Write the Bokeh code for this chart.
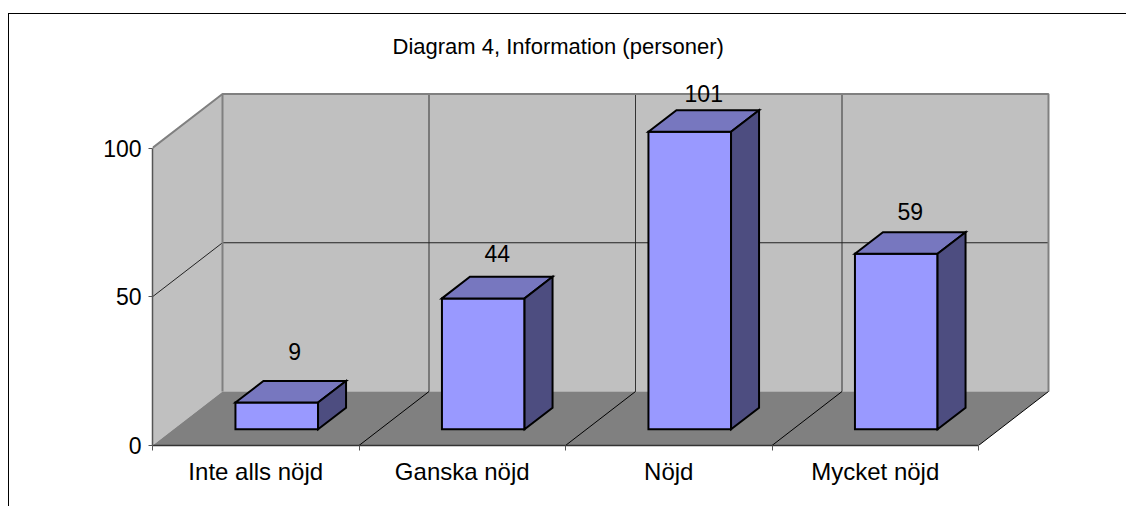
from bokeh.plotting import figure
from bokeh.models import Range1d, LinearAxis, FixedTicker, Title, InlineStyleSheet
from bokeh.core.properties import value
from bokeh.embed import file_html
from bokeh.resources import INLINE

categories = ["Inte alls nöjd", "Ganska nöjd", "Nöjd", "Mycket nöjd"]
counts = [9, 44, 101, 59]
y_ticks = [0, 50, 100]
chart_title = "Diagram 4, Information (personer)"
label_shift_px = [39, 35, 35, 35]

FONT = "Liberation Sans"
W, H = 1126, 506
PX_X, PX_Y = 206.5, 2.975          # pixels per category / per value unit
LEFT, BOTTOM, TOP = 152, 61, 70    # canvas margins around the frame
DX, DY = 70 / PX_X, 54 / PX_Y      # oblique depth vector in data units
YMAX = max(y_ticks)
N = len(categories)

def pr(x, y, d):
    return x + d * DX, y + d * DY

def poly(*pts):
    q = [pr(*t) for t in pts]
    return [a for a, _ in q], [b for _, b in q]

p = figure(width=W, height=H, output_backend="svg", toolbar_location=None,
           x_range=Range1d(0, (W - LEFT) / PX_X),
           y_range=Range1d(0, (H - BOTTOM - TOP) / PX_Y),
           x_axis_type=None, y_axis_type=None,
           min_border_left=LEFT, min_border_right=0, min_border_top=TOP, min_border_bottom=BOTTOM)
p.grid.visible = False
p.outline_line_color = None
p.background_fill_color = None
p.border_fill_color = "white"

# surrounding chart border, open at the page edge as in the reference
p.stylesheets = [InlineStyleSheet(css=(
    ":host::before{content:'';position:absolute;left:7.5px;top:13px;right:0;bottom:0;"
    "border-left:1.5px solid #000;border-top:1.5px solid #000;z-index:10;pointer-events:none}"))]

p.add_layout(Title(text=chart_title, text_font=FONT, text_font_size="22px",
                   text_font_style="normal", text_color="black",
                   align="left", offset=240, standoff=23), "above")

WALL, FLOOR, EDGE = "#c0c0c0", "#808080", "#808080"
# walls and floor
xs, ys = poly((0, 0, 0), (0, YMAX, 0), (0, YMAX, 1), (0, 0, 1))
p.patch(xs, ys, fill_color=WALL, line_color=None)
xs, ys = poly((0, 0, 1), (0, YMAX, 1), (N, YMAX, 1), (N, 0, 1))
p.patch(xs, ys, fill_color=WALL, line_color=None)
xs, ys = poly((0, 0, 0), (0, 0, 1), (N, 0, 1), (N, 0, 0))
p.patch(xs, ys, fill_color=FLOOR, line_color=None)

# grid on the walls and floor
for i in range(1, N):
    xs, ys = poly((i, 0, 1), (i, YMAX, 1))
    p.line(xs, ys, line_color="#333333", line_width=1)
    xs, ys = poly((i, 0, 0), (i, 0, 1))
    p.line(xs, ys, line_color="black", line_width=1)
xs, ys = poly((0, 50, 0), (0, 50, 1), (N, 50, 1))
p.line(xs, ys, line_color="#222222", line_width=1)

xs, ys = poly((0, YMAX, 0), (0, YMAX, 1), (N, YMAX, 1), (N, 0, 1))
p.line(xs, ys, line_color=EDGE, line_width=2)
xs, ys = poly((0, 0, 1), (0, YMAX, 1))
p.line(xs, ys, line_color=EDGE, line_width=2)
xs, ys = poly((N, 0, 0), (N, 0, 1))
p.line(xs, ys, line_color="black", line_width=1)

# bars (the 101 bar is cut off at the axis maximum, as in the reference)
for i, count in enumerate(counts):
    v = min(count, YMAX)
    x0, x1, d0, d1 = i + 0.3, i + 0.7, 0.3, 0.7
    fx, fy = poly((x0, 0, d0), (x0, v, d0), (x1, v, d0), (x1, 0, d0))
    tx, ty = poly((x0, v, d0), (x0, v, d1), (x1, v, d1), (x1, v, d0))
    sx, sy = poly((x1, 0, d0), (x1, v, d0), (x1, v, d1), (x1, 0, d1))
    for a, b, c in ((fx, fy, "#9999ff"), (tx, ty, "#7777bf"), (sx, sy, "#4d4d80")):
        p.patch(a, b, fill_color=c, line_color="black", line_width=2, line_join="miter")

# value labels
lx = [i + 0.5 + s / PX_X for i, s in enumerate(label_shift_px)]
ly = [(69 + 2.8 * v) / PX_Y for v in counts]
p.text(lx, ly, text=[str(v) for v in counts], text_font=value(FONT), text_font_size="23px",
       text_align="center", text_baseline="middle", text_color="black")

# axes
yax = LinearAxis(ticker=FixedTicker(ticks=y_ticks), bounds=(0, YMAX))
yax.axis_line_color = "#555555"
yax.axis_line_width = 1.5
yax.major_tick_line_color = "#555555"
yax.major_tick_out = 4
yax.major_tick_in = 0
yax.minor_tick_line_color = None
yax.major_label_standoff = 7
yax.major_label_text_font = FONT
yax.major_label_text_font_size = "23px"
yax.major_label_text_color = "black"
p.add_layout(yax, "left")

centers = [i + 0.5 for i in range(N)]
xax = LinearAxis(ticker=FixedTicker(ticks=centers, minor_ticks=list(range(N + 1))),
                 bounds=(0, N),
                 major_label_overrides={c: t for c, t in zip(centers, categories)})
xax.axis_line_color = "#333333"
xax.axis_line_width = 1.5
xax.major_tick_line_color = None
xax.major_tick_out = 5
xax.major_tick_in = 0
xax.minor_tick_line_color = "#555555"
xax.minor_tick_out = 5
xax.minor_tick_in = 0
xax.major_label_standoff = 7
xax.major_label_text_font = FONT
xax.major_label_text_font_size = "24px"
xax.major_label_text_color = "black"
p.add_layout(xax, "below")

open("out.html", "w").write(file_html(p, INLINE))
